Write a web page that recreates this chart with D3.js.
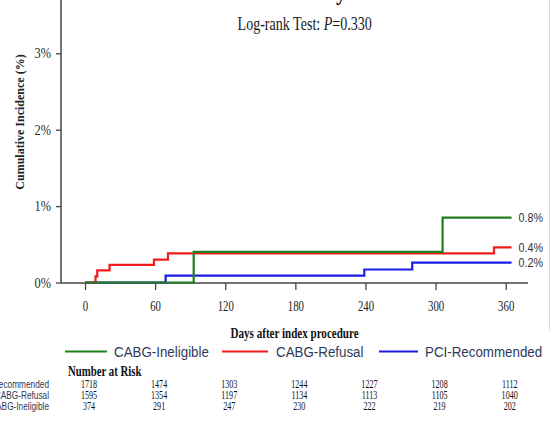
<!DOCTYPE html>
<html>
<head>
<meta charset="utf-8">
<script src="https://cdn.jsdelivr.net/npm/d3@7"></script>
<style>
  body { margin: 0; background: #fff; }
  svg { display: block; }
</style>
</head>
<body>
<div id="chart"></div>
<script>
// ---- data ----
var seriesNames = ["CABG-Ineligible", "CABG-Refusal", "PCI-Recommended"];
var seriesColors = ["#1f7f1f", "#f21c1c", "#1c1ce6"];

// step changes: day of event and cumulative incidence (%) after it
var ineligibleDays = [0, 93, 306, 365];
var ineligibleCum  = [0, 0.40, 0.85, 0.85];
var refusalDays = [0, 9, 10.5, 21, 59, 71, 350, 365];
var refusalCum  = [0, 0.08, 0.16, 0.23, 0.30, 0.38, 0.46, 0.46];
var recommendedDays = [0, 69, 239, 280, 365];
var recommendedCum  = [0, 0.09, 0.17, 0.26, 0.26];

var endLabels = ["0.8%", "0.4%", "0.2%"];

var dayTicks = [0, 60, 120, 180, 240, 300, 360];
var pctTicks = [0, 1, 2, 3];

var riskRows = ["PCI-Recommended", "CABG-Refusal", "CABG-Ineligible"];
var riskRecommended = [1718, 1474, 1303, 1244, 1227, 1208, 1112];
var riskRefusal     = [1595, 1354, 1197, 1134, 1113, 1105, 1040];
var riskIneligible  = [374, 291, 247, 230, 222, 219, 202];

// ---- layout ----
var W = 552, H = 432;
var serif = "'Liberation Serif', 'Times New Roman', serif";
var sans = "'Liberation Sans', Arial, sans-serif";
var axisColor = "#444";
var labelColor = "#2f3a58";

var svg = d3.select("#chart").append("svg")
  .attr("width", W)
  .attr("height", H);

var x = d3.scaleLinear().domain([0, 360]).range([85, 505.7]);
var y = d3.scaleLinear().domain([0, 3]).range([282.5, 53.3]);
var axisX0 = 61, axisY0 = 283;

// text helper: horizontally squeezed text like the source image
function label(g, tx, ty, str, k, size, family, anchor) {
  return g.append("text")
    .attr("transform", "translate(" + tx + "," + ty + ") scale(" + k + ",1)")
    .attr("text-anchor", anchor || "middle")
    .style("font-family", family)
    .style("font-size", size + "px")
    .text(str);
}

// cropped title (only the descender is visible)
label(svg, 336, 0, "y", 1, 20, serif, "start").style("font-weight", "bold");

// faint right border
svg.append("line")
  .attr("x1", 549.5).attr("x2", 549.5)
  .attr("y1", 0).attr("y2", 330)
  .attr("stroke", "#dcdcdc").attr("stroke-width", 1);

// subtitle
var sub = label(svg, 304.7, 30, "", 0.74, 19, serif, "middle").style("fill", "#1a1a1a");
sub.append("tspan").text("Log-rank Test: ");
sub.append("tspan").style("font-style", "italic").text("P");
sub.append("tspan").text("=0.330");

// y axis
var yAxis = svg.append("g")
  .attr("transform", "translate(" + axisX0 + ",0)")
  .call(d3.axisLeft(y).tickValues(pctTicks).tickSize(5).tickFormat(function (d) { return d + "%"; }));
yAxis.select(".domain").remove();
yAxis.selectAll(".tick line").attr("stroke", axisColor).attr("stroke-width", 1.3);
yAxis.selectAll(".tick text")
  .attr("x", -10 / 0.85)
  .attr("transform", "scale(0.85,1)")
  .style("font-family", serif)
  .style("font-size", "14.5px")
  .style("fill", "#2a2a2a");
svg.append("line")
  .attr("x1", axisX0).attr("x2", axisX0)
  .attr("y1", 0).attr("y2", axisY0)
  .attr("stroke", axisColor).attr("stroke-width", 1.5);

// x axis
var xAxis = svg.append("g")
  .attr("transform", "translate(0," + axisY0 + ")")
  .call(d3.axisBottom(x).tickValues(dayTicks).tickSize(7));
xAxis.select(".domain").remove();
xAxis.selectAll(".tick line").attr("stroke", axisColor).attr("stroke-width", 1.3);
xAxis.selectAll(".tick text")
  .attr("y", 28).attr("dy", null)
  .attr("transform", "scale(0.72,1)")
  .style("font-family", serif)
  .style("font-size", "15px")
  .style("fill", "#1a1a1a");
svg.append("line")
  .attr("x1", axisX0).attr("x2", 528)
  .attr("y1", axisY0).attr("y2", axisY0)
  .attr("stroke", axisColor).attr("stroke-width", 1.5);

// axis titles
label(svg, 294.6, 338, "Days after index procedure", 0.79, 14, serif, "middle")
  .style("font-weight", "bold").style("fill", "#111");
svg.append("text")
  .attr("transform", "translate(24,122) rotate(-90) scale(0.89,1)")
  .attr("text-anchor", "middle")
  .style("font-family", serif)
  .style("font-size", "13.5px")
  .style("font-weight", "bold")
  .style("fill", "#222")
  .text("Cumulative Incidence (%)");

// curves
var curves = [
  { days: ineligibleDays, cum: ineligibleCum, color: seriesColors[0], label: endLabels[0] },
  { days: refusalDays, cum: refusalCum, color: seriesColors[1], label: endLabels[1] },
  { days: recommendedDays, cum: recommendedCum, color: seriesColors[2], label: endLabels[2] }
];

var line = d3.line()
  .x(function (d) { return x(d[0]); })
  .y(function (d) { return y(d[1]); })
  .curve(d3.curveStepAfter);

// draw blue, red, then green on top
curves.slice().reverse().forEach(function (c) {
  var pts = c.days.map(function (d, i) { return [d, c.cum[i]]; });
  svg.append("path")
    .datum(pts)
    .attr("d", line)
    .attr("fill", "none")
    .attr("stroke", c.color)
    .attr("stroke-width", 2.2);
});

curves.forEach(function (c) {
  var last = c.days.length - 1;
  label(svg, x(c.days[last]) + 7, y(c.cum[last]) + 4.5, c.label, 0.86, 12.5, sans, "start")
    .style("fill", "#333");
});

// legend
var legendX = [65, 222, 379];
var legendLen = [42, 46, 39];
seriesNames.forEach(function (name, i) {
  svg.append("line")
    .attr("x1", legendX[i]).attr("x2", legendX[i] + legendLen[i])
    .attr("y1", 351.5).attr("y2", 351.5)
    .attr("stroke", seriesColors[i]).attr("stroke-width", 2.2);
  label(svg, legendX[i] + legendLen[i] + (i === 1 ? 8 : 7), 357, name, 0.89, 15, sans, "start")
    .style("fill", labelColor);
});

// number at risk
label(svg, 68, 376, "Number at Risk", 0.77, 14, serif, "start")
  .style("font-weight", "bold").style("fill", "#111");

var riskData = [riskRecommended, riskRefusal, riskIneligible];
var rowY = [387.8, 399.2, 410];
riskRows.forEach(function (name, r) {
  label(svg, 49, rowY[r], name, 0.72, 11.5, sans, "end").style("fill", labelColor);
  riskData[r].forEach(function (v, j) {
    label(svg, x(dayTicks[j]) + 4, rowY[r], v, 0.6, 13.5, serif, "middle").style("fill", "#111");
  });
});
</script>
</body>
</html>
